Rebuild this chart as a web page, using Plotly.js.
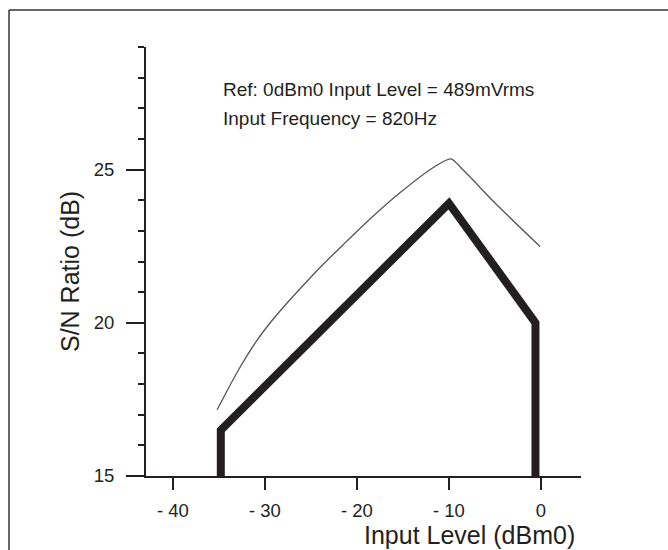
<!DOCTYPE html>
<html>
<head>
<meta charset="utf-8">
<script src="https://cdn.plot.ly/plotly-3.0.1.min.js"></script>
<style>html,body{margin:0;padding:0;background:#fff;}#chart{width:668px;height:550px;}</style>
</head>
<body>
<div id="chart"></div>
<script>
// S/N ratio limit (thick) and typical measured curve (thin)
const limitX = [-34.8, -34.8, -10, -0.6, -0.6];
const limitY = [15, 16.5, 23.9, 20, 15];
const typX = [-35.2, -32.9, -31.0, -29.3, -27.5, -25.6, -23.7, -21.5, -18.9, -15.3, -11.7, -9.8, -8.5, -4.8, -0.1];
const typY = [17.16, 18.45, 19.37, 20.05, 20.68, 21.3, 21.9, 22.55, 23.3, 24.25, 25.07, 25.35, 25.0, 23.85, 22.49];
const xTickVals = [-40, -30, -20, -10, 0];
const xTickText = ['- 40', '- 30', '- 20', '- 10', '0'];
const yTickVals = [15, 20, 25];
const yTickText = ['15', '20', '25'];

const ink = '#231f20';
const font = 'Liberation Sans, Arial, Helvetica, sans-serif';

const traces = [
  {x: typX, y: typY, mode: 'lines', line: {color: '#555555', width: 1.3, shape: 'spline', smoothing: 0.7}, hoverinfo: 'skip', showlegend: false},
  {x: limitX, y: limitY, mode: 'lines', line: {color: ink, width: 8}, hoverinfo: 'skip', showlegend: false}
];

const layout = {
  width: 668, height: 550, autosize: false,
  margin: {l: 146, r: 87, t: 47, b: 74, pad: 0},
  paper_bgcolor: '#ffffff', plot_bgcolor: '#ffffff',
  font: {family: font, color: ink, size: 18.5},
  showlegend: false,
  xaxis: {
    range: [-42.93, 4.35], showgrid: false, zeroline: false,
    showline: true, linecolor: ink, linewidth: 2,
    tickmode: 'array', tickvals: xTickVals, ticktext: xTickText,
    ticks: 'outside', ticklen: 12, tickwidth: 2, tickcolor: ink,
    tickfont: {family: font, size: 18.5, color: ink},
    ticklabelstandoff: 5
  },
  yaxis: {
    range: [15, 29.001], showgrid: false, zeroline: false,
    showline: true, linecolor: ink, linewidth: 2,
    tickmode: 'array', tickvals: yTickVals, ticktext: yTickText,
    ticks: 'outside', ticklen: 18, tickwidth: 2, tickcolor: ink,
    tickfont: {family: font, size: 18.5, color: ink},
    ticklabelstandoff: 8,
    minor: {tickmode: 'linear', tick0: 15, dtick: 1, ticks: 'outside', ticklen: 6, tickwidth: 2, tickcolor: ink, showgrid: false}
  },
  annotations: [
    {text: 'Ref: 0dBm0 Input Level = 489mVrms', xref: 'paper', yref: 'paper', x: 0.1717, y: 0.9014, xanchor: 'left', yanchor: 'middle', showarrow: false, font: {family: font, size: 19, color: ink}},
    {text: 'Input Frequency = 820Hz', xref: 'paper', yref: 'paper', x: 0.1717, y: 0.8338, xanchor: 'left', yanchor: 'middle', showarrow: false, font: {family: font, size: 19, color: ink}},
    {text: 'Input Level (dBm0)', xref: 'paper', yref: 'paper', x: 0.9915, y: -0.1375, xanchor: 'right', yanchor: 'middle', showarrow: false, font: {family: font, size: 25, color: ink}},
    {text: 'S/N Ratio (dB)', xref: 'paper', yref: 'paper', x: -0.1747, y: 0.4755, xanchor: 'center', yanchor: 'middle', textangle: -90, showarrow: false, font: {family: font, size: 25, color: ink}}
  ],
  shapes: [
    {type: 'line', xref: 'paper', yref: 'paper', x0: -0.3149, x1: 1.25, y0: 1.0862, y1: 1.0862, line: {color: '#333333', width: 1.5}},
    {type: 'line', xref: 'paper', yref: 'paper', x0: -0.3149, x1: -0.3149, y0: 1.0862, y1: -0.2, line: {color: '#333333', width: 1.5}}
  ]
};

Plotly.newPlot('chart', traces, layout, {staticPlot: true, displayModeBar: false});
</script>
</body>
</html>
